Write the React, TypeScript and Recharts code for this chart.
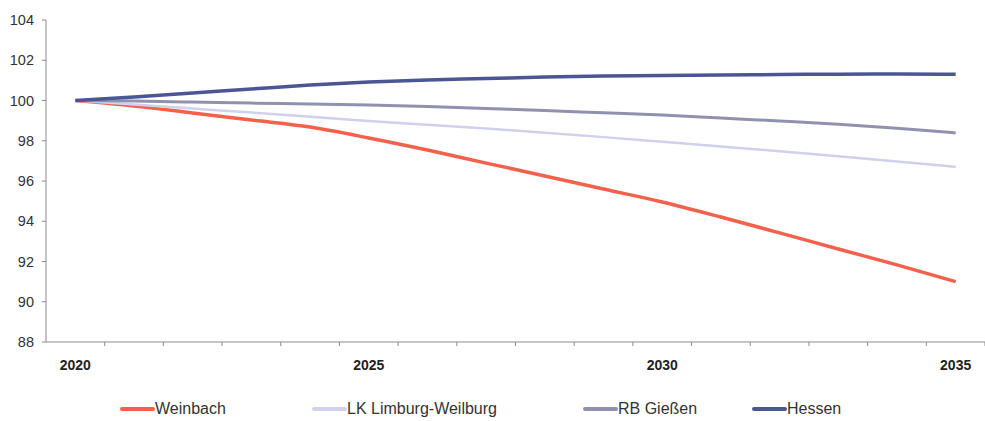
import React from "react";
import { LineChart, Line, XAxis, YAxis, Legend } from "recharts";

const years = [
  "2020", "2021", "2022", "2023", "2024", "2025", "2026", "2027",
  "2028", "2029", "2030", "2031", "2032", "2033", "2034", "2035",
];
const weinbach = [100, 99.73, 99.38, 99.03, 98.68, 98.14, 97.54, 96.89, 96.25, 95.6, 94.96, 94.21, 93.42, 92.62, 91.83, 91.0];
const limburg = [100, 99.8, 99.6, 99.4, 99.19, 98.98, 98.8, 98.61, 98.4, 98.18, 97.95, 97.72, 97.48, 97.23, 96.97, 96.7];
const giessen = [100, 99.97, 99.92, 99.87, 99.83, 99.78, 99.7, 99.6, 99.5, 99.39, 99.28, 99.13, 98.98, 98.82, 98.62, 98.39];
const hessen = [100, 100.17, 100.37, 100.57, 100.77, 100.92, 101.02, 101.09, 101.17, 101.22, 101.24, 101.27, 101.29, 101.31, 101.32, 101.3];
const yTicks = [88, 90, 92, 94, 96, 98, 100, 102, 104];
const labelYears = ["2020", "2025", "2030", "2035"];

const data = years.map((y, i) => ({
  year: y,
  weinbach: weinbach[i],
  limburg: limburg[i],
  giessen: giessen[i],
  hessen: hessen[i],
}));

const W = 985;
const H = 421;
const Y_AXIS_W = 46;
const LEGEND_H = 24;
const halfBand = (W - Y_AXIS_W) / years.length / 2;

const series = [
  { key: "weinbach", name: "Weinbach", color: "#f2614b", width: 3.5, left: 120 },
  { key: "limburg", name: "LK Limburg-Weilburg", color: "#d0d1ec", width: 2.5, left: 312 },
  { key: "giessen", name: "RB Gießen", color: "#8f92ae", width: 3, left: 583 },
  { key: "hessen", name: "Hessen", color: "#4b5695", width: 3.5, left: 752 },
];

const font = "'Liberation Sans', Arial, sans-serif";

const XTick = (props: any) => {
  const { x, y, payload } = props;
  const show = labelYears.includes(payload.value);
  return (
    <g>
      <line x1={x + halfBand} x2={x + halfBand} y1={y} y2={y + 4} stroke="#8a8a8a" />
      {show && (
        <text x={x} y={y + 28} textAnchor="middle" fontSize={14} fontWeight="bold" fill="#222" fontFamily={font}>
          {payload.value}
        </text>
      )}
    </g>
  );
};

const LegendBox = () => (
  <div style={{ position: "relative", width: W, height: LEGEND_H }}>
    {series.map((s) => (
      <div
        key={s.key}
        style={{
          position: "absolute",
          left: s.left,
          top: 0,
          display: "flex",
          alignItems: "center",
          fontFamily: font,
          fontSize: 16,
          color: "#333",
        }}
      >
        <span style={{ display: "inline-block", width: 35, height: 4, background: s.color, borderRadius: 2 }} />
        <span>{s.name}</span>
      </div>
    ))}
  </div>
);

export default function App() {
  return (
    <div style={{ position: "absolute", left: 0, top: 0, width: W, height: H, background: "#fff" }}>
      <LineChart width={W} height={H} data={data} margin={{ top: 20, right: 0, left: 0, bottom: 49 - LEGEND_H }}>
        <XAxis
          dataKey="year"
          interval={0}
          tick={<XTick />}
          tickLine={false}
          tickSize={0}
          tickMargin={0}
          height={30}
          padding={{ left: halfBand, right: halfBand }}
          stroke="#8a8a8a"
        />
        <YAxis
          domain={[88, 104]}
          ticks={yTicks}
          width={Y_AXIS_W}
          tickSize={4}
          tickMargin={8}
          stroke="#8a8a8a"
          tick={{ fontSize: 14.5, fill: "#333", fontFamily: font }}
        />
        <Legend
          verticalAlign="bottom"
          content={<LegendBox />}
          wrapperStyle={{ position: "absolute", left: 0, top: 400, width: W, height: LEGEND_H }}
        />
        {series.map((s) => (
          <Line
            key={s.key}
            dataKey={s.key}
            name={s.name}
            type="monotone"
            stroke={s.color}
            strokeWidth={s.width}
            dot={false}
            isAnimationActive={false}
          />
        ))}
      </LineChart>
    </div>
  );
}
